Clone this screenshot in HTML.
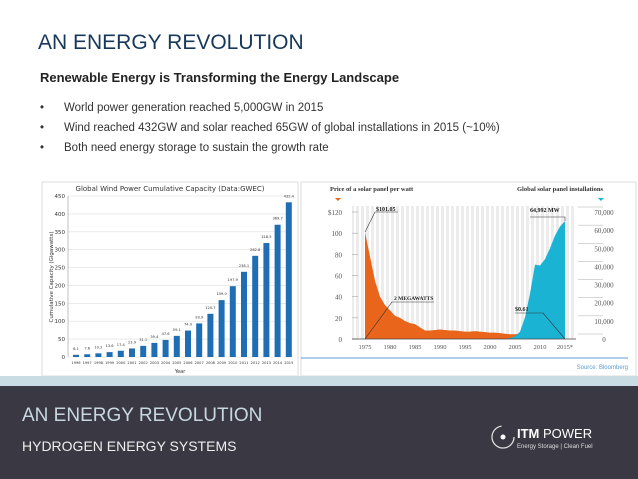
<!DOCTYPE html>
<html><head><meta charset="utf-8"><style>
body{margin:0;width:638px;height:479px;overflow:hidden;background:#fff;font-family:"Liberation Sans",sans-serif;position:relative}
.a{position:absolute;white-space:nowrap}
</style></head><body>
<div class="a" style="left:38px;top:31px;font-size:21px;color:#17385a">AN ENERGY REVOLUTION</div>
<div class="a" style="left:40px;top:70px;font-size:13px;font-weight:bold;color:#222">Renewable Energy is Transforming the Energy Landscape</div>
<div>
<div class="a" style="left:40px;top:102px;font-size:11.5px;color:#333">•<span style="position:absolute;left:24px">World power generation reached 5,000GW in 2015</span></div>
<div class="a" style="left:40px;top:122px;font-size:11.5px;color:#333">•<span style="position:absolute;left:24px">Wind reached 432GW and solar reached 65GW of global installations in 2015 (~10%)</span></div>
<div class="a" style="left:40px;top:142px;font-size:11.5px;color:#333">•<span style="position:absolute;left:24px">Both need energy storage to sustain the growth rate</span></div>
</div>

<svg class="a" style="left:0;top:0" width="638" height="479">
<rect x="42" y="182" width="256" height="194" fill="#fff" stroke="#ddd"/>
<rect x="301" y="182" width="335" height="194" fill="#fff" stroke="#ddd"/>
<g id="wind"></g>
<g id="solar"></g>
<rect x="0" y="376" width="638" height="10" fill="#c9dce4"/>
<rect x="0" y="386" width="638" height="93" fill="#3a3943"/>
<text x="22" y="421" font-size="19" fill="#c8d8e2" font-family="Liberation Sans">AN ENERGY REVOLUTION</text>
<text x="22" y="451" font-size="14" fill="#eee" font-family="Liberation Sans">HYDROGEN ENERGY SYSTEMS</text>
<g>
<circle cx="503" cy="437" r="11" fill="none" stroke="#ddd" stroke-width="1.3" stroke-dasharray="50 19"/>
<circle cx="503" cy="437" r="2.5" fill="#fff"/>
<text x="517" y="438" font-size="13" fill="#fff" font-family="Liberation Sans"><tspan font-weight="bold">ITM</tspan> POWER</text>
<text x="517" y="448" font-size="6" fill="#ddd" font-family="Liberation Sans">Energy Storage | Clean Fuel</text>
</g>
</svg>
<script>
const windYears=["1996","1997","1998","1999","2000","2001","2002","2003","2004","2005","2006","2007","2008","2009","2010","2011","2012","2013","2014","2015"];
const windValues=[6.1,7.6,10.2,13.6,17.4,23.9,31.1,39.4,47.6,59.1,74.0,93.9,120.7,159.0,197.9,238.1,282.8,318.5,369.7,432.4];
const windTicks=[0,50,100,150,200,250,300,350,400,450];
const solarYears=[1975,1976,1977,1978,1979,1980,1981,1982,1983,1984,1985,1986,1987,1988,1989,1990,1991,1992,1993,1994,1995,1996,1997,1998,1999,2000,2001,2002,2003,2004,2005,2006,2007,2008,2009,2010,2011,2012,2013,2014,2015];
const solarPrice=[101,78,55,40,32,27,22,20,17,15,14,11,8,8,8.5,9,8.5,8,8,7.5,7,7,7.5,7,6.5,6,6,5.5,5,4.5,4.5,5,4.5,3.5,2,1.5,1.2,0.9,0.8,0.7,0.61];
const instYears=[2003,2004,2005,2006,2007,2008,2009,2010,2011,2012,2013,2014,2015];
const instValues=[0,500,1500,4000,12000,25000,41000,40500,44000,50000,57000,62000,65000];
const priceTicks=["0","20","40","60","80","100","$120"];
const instTicks=["0","10,000","20,000","30,000","40,000","50,000","60,000","70,000"];
const xYearTicks=["1975","1980","1985","1990","1995","2000","2005","2010","2015*"];
const NS="http://www.w3.org/2000/svg";
function mk(p,t,a,txt){const e=document.createElementNS(NS,t);for(const k in a)e.setAttribute(k,a[k]);if(txt!==undefined)e.textContent=txt;p.appendChild(e);return e;}
// wind
const W=document.getElementById('wind');
const wy=v=>357-v*(357-196)/450, wx=i=>76+i*11.2;
mk(W,'text',{x:170,y:191,'font-size':7,'text-anchor':'middle',fill:'#333','font-family':'DejaVu Sans'},'Global Wind Power Cumulative Capacity (Data:GWEC)');
windTicks.forEach(t=>{const g=mk(W,'line',{x1:68,x2:292,y1:wy(t),y2:wy(t),stroke:'#ddd','stroke-width':0.6});
const l=mk(W,'text',{x:65,y:wy(t)+2,'font-size':5.5,'text-anchor':'end',fill:'#333','font-family':'DejaVu Sans'},String(t));});
mk(W,'line',{x1:68,x2:68,y1:196,y2:357,stroke:'#999','stroke-width':0.6});
mk(W,'text',{x:0,y:0,'font-size':5.5,'text-anchor':'middle',fill:'#333',transform:'translate(53,277) rotate(-90)','font-family':'DejaVu Sans'},'Cumulative Capacity (Gigawatts)');
mk(W,'text',{x:180,y:373,'font-size':5,'text-anchor':'middle',fill:'#333','font-family':'DejaVu Sans'},'Year');
windValues.forEach((v,i)=>{const x=wx(i);
const b=mk(W,'rect',{x:x-3,y:wy(v),width:6,height:357-wy(v),fill:'#1f6db3'});
const l=mk(W,'text',{x:x,y:wy(v)-5,'font-size':3.6,'text-anchor':'middle',fill:'#333','font-family':'DejaVu Sans'},v.toFixed(1));
const t=mk(W,'text',{x:x,y:364,'font-size':3.6,'text-anchor':'middle',fill:'#333','font-family':'DejaVu Sans'},windYears[i]);});
// solar
const S=document.getElementById('solar');
const sx=y=>365+(y-1975)*5, sp=v=>339-v*(339-212)/120, si=v=>339-v*(339-212)/70000;
mk(S,'rect',{x:352,y:206,width:224,height:133,fill:'#ececec'});
for(let y=1973;y<=2017;y++)mk(S,'line',{x1:sx(y),x2:sx(y),y1:206,y2:339,stroke:'#fff','stroke-width':2});
priceTicks.forEach((t,i)=>{const y=339-i*(339-212)/6;const l=mk(S,'text',{x:342,y:y+3,'font-size':7,'text-anchor':'end',fill:'#555','font-family':'Liberation Serif'},t);mk(S,'line',{x1:352,x2:358,y1:y,y2:y,stroke:'#999','stroke-width':0.5});});
instTicks.forEach((t,i)=>{const y=339-i*(339-212)/7;const l=mk(S,'text',{x:604,y:y+3,'font-size':7,'text-anchor':'middle',fill:'#555','font-family':'Liberation Serif'},t);mk(S,'line',{x1:578,x2:603,y1:y-5,y2:y-5,stroke:'#999','stroke-width':0.4});});
xYearTicks.forEach((t,i)=>{const l=mk(S,'text',{x:sx(1975+5*i),y:349,'font-size':6.5,'text-anchor':'middle',fill:'#555','font-family':'Liberation Serif'},t);});
let d='M'+sx(1975)+','+sp(0);solarYears.forEach((y,i)=>d+=' L'+sx(y)+','+sp(solarPrice[i]));d+=' L'+sx(2015)+','+sp(0)+'Z';
const pa=mk(S,'path',{d:d,fill:'#e8651b'});
let d2='M'+sx(instYears[0])+','+si(0);instYears.forEach((y,i)=>d2+=' L'+sx(y)+','+si(instValues[i]));d2+=' L'+sx(2015)+','+si(0)+'Z';
const ia=mk(S,'path',{d:d2,fill:'#1ab3d3'});
mk(S,'line',{x1:352,x2:576,y1:339,y2:339,stroke:'#444','stroke-width':0.8});
mk(S,'polyline',{points:`${sx(1975)},${sp(101)} 375,212 398,212`,fill:'none',stroke:'#333','stroke-width':0.6});
mk(S,'text',{x:376,y:211,'font-size':6,'font-weight':'bold',fill:'#222','font-family':'Liberation Serif'},'$101.05');
mk(S,'polyline',{points:`${sx(1975)},339 392,302 434,302`,fill:'none',stroke:'#333','stroke-width':0.6});
mk(S,'text',{x:394,y:300,'font-size':5.5,'font-weight':'bold',fill:'#222','font-family':'Liberation Serif'},'2 MEGAWATTS');
mk(S,'polyline',{points:`515,313 543,313 ${sx(2015)},339`,fill:'none',stroke:'#333','stroke-width':0.6});
mk(S,'text',{x:515,y:311,'font-size':6,'font-weight':'bold',fill:'#222','font-family':'Liberation Serif'},'$0.61');
mk(S,'polyline',{points:`530,217 ${sx(2015)},217 ${sx(2015)},${si(65000)}`,fill:'none',stroke:'#333','stroke-width':0.6});
mk(S,'text',{x:530,y:212,'font-size':6,'font-weight':'bold',fill:'#222','font-family':'Liberation Serif'},'64,992 MW');
mk(S,'text',{x:330,y:191,'font-size':6.5,'font-weight':'bold',fill:'#333','font-family':'Liberation Serif'},'Price of a solar panel per watt');
mk(S,'text',{x:603,y:191,'font-size':6.5,'font-weight':'bold',fill:'#333','text-anchor':'end','font-family':'Liberation Serif'},'Global solar panel installations');
mk(S,'path',{d:'M335,198 L341,198 L338,201Z',fill:'#e8651b'});
mk(S,'path',{d:'M598,198 L604,198 L601,201Z',fill:'#1ab3d3'});
mk(S,'line',{x1:301,x2:628,y1:358,y2:358,stroke:'#5b9bd5','stroke-width':1});
mk(S,'text',{x:628,y:369,'font-size':6,'text-anchor':'end',fill:'#5b9bd5','font-family':'Liberation Sans'},'Source: Bloomberg');
</script>
</body></html>
